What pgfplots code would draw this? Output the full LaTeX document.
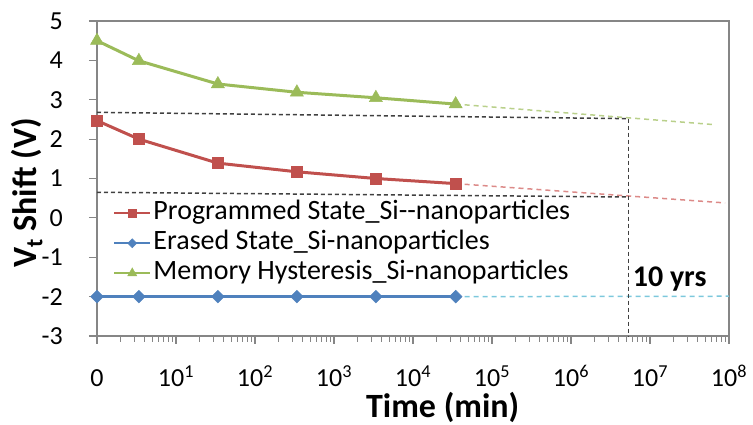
\documentclass[border=0pt]{standalone}
\usepackage{pgfplots}
\pgfplotsset{compat=1.18}
\usepackage{fontspec}
\setmainfont{Carlito}
\definecolor{cred}{HTML}{C0504D}
\definecolor{cblue}{HTML}{4F81BD}
\definecolor{cgreen}{HTML}{9BBB59}
\definecolor{tred}{HTML}{DC8A88}
\definecolor{tgreen}{HTML}{B9D08A}
\definecolor{tblue}{HTML}{7CC8DC}
\definecolor{axgray}{HTML}{868686}
\definecolor{refgray}{HTML}{404040}
\begin{document}
\begin{tikzpicture}
\useasboundingbox (0,0) rectangle (753pt,425pt);
\begin{axis}[
  at={(97pt,89pt)}, anchor=south west,
  width=632pt, height=315pt, scale only axis,
  xmin=0, xmax=8, ymin=-3, ymax=5,
  xtick={0,1,2,3,4,5,6,7,8},
  xticklabels={0,10\textsuperscript{1},10\textsuperscript{2},10\textsuperscript{3},10\textsuperscript{4},10\textsuperscript{5},10\textsuperscript{6},10\textsuperscript{7},10\textsuperscript{8}},
  minor xtick={0.301,0.477,0.602,0.699,0.778,0.845,0.903,0.954,
    1.301,1.477,1.602,1.699,1.778,1.845,1.903,1.954,
    2.301,2.477,2.602,2.699,2.778,2.845,2.903,2.954,
    3.301,3.477,3.602,3.699,3.778,3.845,3.903,3.954,
    4.301,4.477,4.602,4.699,4.778,4.845,4.903,4.954,
    5.301,5.477,5.602,5.699,5.778,5.845,5.903,5.954,
    6.301,6.477,6.602,6.699,6.778,6.845,6.903,6.954,
    7.301,7.477,7.602,7.699,7.778,7.845,7.903,7.954},
  ytick={-3,-2,-1,0,1,2,3,4,5},
  tick pos=left,
  tick align=outside,
  major tick length=8pt, minor tick length=6pt,
  axis line style={axgray, line width=1.2pt},
  every tick/.style={axgray, line width=1.2pt},
  /pgf/number format/assume math mode=true,
  tick label style={font=\fontsize{26}{30}\selectfont, text=black},
  xticklabel style={anchor=base, yshift=-43pt, inner sep=0pt},
  yticklabel style={anchor=east, xshift=-26pt, inner sep=0pt},
  ylabel={\textbf{V\textsubscript{t} Shift (V)}},
  ylabel style={at={(axis description cs:-0.0965,0.454)}, anchor=base, font=\fontsize{34}{40}\selectfont},
  xlabel={\textbf{Time (min)}},
  xlabel style={at={(axis description cs:0.547,-0.26)}, anchor=base, font=\fontsize{34}{40}\selectfont},
  legend style={draw=none, fill=white, at={(axis description cs:0.025,0.438)}, anchor=north west,
    font=\fontsize{28}{32}\selectfont, row sep=0pt, inner sep=0pt,
    nodes={inner sep=2pt, text height=19pt, text depth=7pt}},
  legend cell align=left,
  legend image code/.code={\draw[mark repeat=2, mark phase=2, line width=2.5pt, every mark/.append style={scale=0.7}] plot coordinates {(0pt,0pt) (18pt,0pt) (36pt,0pt)};},
  clip=false,
]
\addplot[cred, line width=3pt, mark=square*, mark size=5.5pt, mark options={solid, line width=0.5pt}]
  coordinates {(0,2.47) (0.53,2.0) (1.53,1.39) (2.53,1.17) (3.53,1.0) (4.54,0.87)};
\addlegendentry{Programmed State\_Si-{}-nanoparticles}
\addplot[cblue, line width=3pt, mark=square*, mark size=4.5pt, mark options={solid, line width=0.5pt, rotate=45}]
  coordinates {(0,-2) (0.53,-2) (1.53,-2) (2.53,-2) (3.53,-2) (4.54,-2)};
\addlegendentry{Erased State\_Si-nanoparticles}
\addplot[cgreen, line width=3pt, mark=triangle*, mark size=7.5pt, mark options={solid, line width=0.5pt}]
  coordinates {(0,4.5) (0.53,3.99) (1.53,3.4) (2.53,3.19) (3.53,3.05) (4.54,2.89)};
\addlegendentry{Memory Hysteresis\_Si-nanoparticles}
% trend lines
\addplot[forget plot, tgreen, line width=1.5pt, dash pattern=on 5pt off 4pt] coordinates {(4.54,2.89) (7.8,2.37)};
\addplot[forget plot, tred, line width=1.5pt, dash pattern=on 5pt off 4pt] coordinates {(4.54,0.87) (7.95,0.38)};
\addplot[forget plot, tblue, line width=1.5pt, dash pattern=on 5pt off 4pt] coordinates {(4.54,-2) (8,-1.99)};
% 10-year guide lines
\addplot[forget plot, refgray, line width=1.5pt, dash pattern=on 4pt off 3pt] coordinates {(0,2.68) (6.73,2.52)};
\addplot[forget plot, refgray, line width=1.5pt, dash pattern=on 4pt off 3pt] coordinates {(0,0.65) (6.73,0.53)};
\addplot[forget plot, refgray, line width=1.5pt, dash pattern=on 4pt off 3pt] coordinates {(6.73,2.52) (6.73,-3)};
\node[anchor=base west, inner sep=0pt, font=\fontsize{30}{36}\selectfont\bfseries] at (axis cs:6.78,-1.74) {10 yrs};
\end{axis}
\end{tikzpicture}
\end{document}
